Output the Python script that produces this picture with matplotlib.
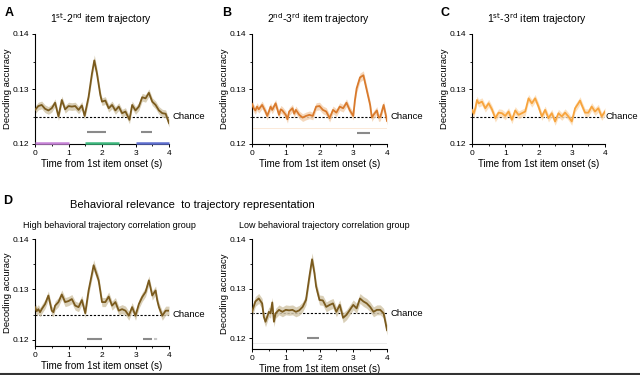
import matplotlib
matplotlib.use("Agg")
import matplotlib.pyplot as plt
from matplotlib.lines import Line2D
import numpy as np

plt.rcParams['font.family'] = ['Liberation Sans', 'DejaVu Sans']

# ---------------- data ----------------
tA = [0.0, 0.1, 0.2, 0.3, 0.4, 0.5, 0.6, 0.7, 0.8, 0.9, 1.0, 1.1, 1.2, 1.3, 1.4, 1.48, 1.6, 1.7, 1.77, 1.85,
      1.95, 2.0, 2.1, 2.2, 2.3, 2.4, 2.5, 2.6, 2.7, 2.82, 2.9, 3.0, 3.1, 3.2, 3.3, 3.4, 3.5, 3.6, 3.7, 3.8, 3.9, 4.0]
vA = [0.1262, 0.1269, 0.1271, 0.1264, 0.1261, 0.1265, 0.1275, 0.1250, 0.1280, 0.1263, 0.1269, 0.1268, 0.1269,
      0.1262, 0.1270, 0.1251, 0.1286, 0.1328, 0.1352, 0.1328, 0.1289, 0.1277, 0.1279, 0.1265, 0.1271, 0.1261,
      0.1268, 0.1256, 0.1259, 0.1244, 0.1271, 0.1261, 0.1268, 0.1285, 0.1283, 0.1293, 0.1277, 0.1271, 0.1261,
      0.1256, 0.1255, 0.1238]
eA = [0.0007] * 15 + [0.0007, 0.0008, 0.0009, 0.0010, 0.0009, 0.0008] + [0.0007] * 21

tB = [0.0, 0.05, 0.1, 0.15, 0.2, 0.3, 0.4, 0.45, 0.5, 0.55, 0.6, 0.7, 0.8, 0.85, 0.9, 1.0, 1.05, 1.1, 1.2, 1.25,
      1.3, 1.4, 1.5, 1.6, 1.7, 1.8, 1.9, 2.0, 2.1, 2.2, 2.3, 2.4, 2.5, 2.6, 2.7, 2.8, 2.9, 3.0, 3.05, 3.1, 3.2,
      3.3, 3.4, 3.5, 3.55, 3.6, 3.7, 3.75, 3.8, 3.9, 4.0]
vB = [0.1273, 0.1265, 0.1261, 0.1268, 0.1263, 0.1271, 0.1259, 0.1251, 0.1259, 0.1268, 0.1262, 0.1274, 0.1253,
      0.1263, 0.1261, 0.1253, 0.1245, 0.1259, 0.1265, 0.1255, 0.1262, 0.1253, 0.1248, 0.1251, 0.1253, 0.1251,
      0.1268, 0.1269, 0.1262, 0.1259, 0.1247, 0.1262, 0.1257, 0.1268, 0.1265, 0.1275, 0.1261, 0.1251, 0.1280,
      0.1301, 0.1321, 0.1325, 0.1298, 0.1271, 0.1248, 0.1253, 0.1261, 0.1248, 0.1249, 0.1271, 0.1242]
eB = [0.0007] * 39 + [0.0008, 0.0008, 0.0008, 0.0008] + [0.0007] * 8

tC = [0.0, 0.05, 0.1, 0.15, 0.2, 0.3, 0.4, 0.5, 0.6, 0.7, 0.8, 0.9, 1.0, 1.1, 1.2, 1.3, 1.4, 1.5, 1.6, 1.7,
      1.8, 1.9, 2.0, 2.1, 2.2, 2.3, 2.4, 2.5, 2.6, 2.7, 2.8, 2.9, 3.0, 3.1, 3.2, 3.25, 3.3, 3.4, 3.5, 3.6, 3.7,
      3.8, 3.9, 4.0]
vC = [0.1262, 0.1255, 0.1265, 0.1280, 0.1274, 0.1277, 0.1265, 0.1274, 0.1263, 0.1247, 0.1257, 0.1256, 0.1251,
      0.1259, 0.1244, 0.1261, 0.1253, 0.1256, 0.1259, 0.1283, 0.1274, 0.1283, 0.1268, 0.1250, 0.1262, 0.1247,
      0.1256, 0.1241, 0.1256, 0.1250, 0.1257, 0.1250, 0.1241, 0.1265, 0.1274, 0.1279, 0.1271, 0.1257, 0.1257,
      0.1268, 0.1259, 0.1265, 0.1250, 0.1259]
eC = [0.0007] * 44

tD1 = [0.0, 0.05, 0.1, 0.15, 0.2, 0.3, 0.4, 0.5, 0.55, 0.6, 0.7, 0.8, 0.9, 1.0, 1.1, 1.2, 1.3, 1.4, 1.5, 1.6,
       1.7, 1.75, 1.8, 1.9, 2.0, 2.1, 2.2, 2.3, 2.4, 2.5, 2.6, 2.7, 2.8, 2.9, 3.0, 3.1, 3.2, 3.3, 3.4, 3.5,
       3.6, 3.65, 3.7, 3.8, 3.9, 4.0]
vD1 = [0.1265, 0.1257, 0.1261, 0.1255, 0.1261, 0.1271, 0.1288, 0.1258, 0.1255, 0.1268, 0.1275, 0.1290, 0.1275,
       0.1277, 0.1281, 0.1268, 0.1265, 0.1279, 0.1253, 0.1298, 0.1331, 0.1348, 0.1338, 0.1318, 0.1275, 0.1275,
       0.1286, 0.1268, 0.1275, 0.1258, 0.1261, 0.1258, 0.1248, 0.1265, 0.1248, 0.1271, 0.1285, 0.1295, 0.1318,
       0.1288, 0.1298, 0.1278, 0.1265, 0.1248, 0.1258, 0.1258]
eD1 = [0.0009] * 20 + [0.0010, 0.0011, 0.0010, 0.0010] + [0.0009] * 22

tD2 = [0.0, 0.1, 0.2, 0.3, 0.35, 0.4, 0.5, 0.55, 0.6, 0.65, 0.7, 0.8, 0.9, 1.0, 1.1, 1.2, 1.3, 1.4, 1.5, 1.6,
       1.7, 1.78, 1.85, 1.9, 2.0, 2.1, 2.2, 2.3, 2.4, 2.5, 2.6, 2.7, 2.8, 2.9, 3.0, 3.1, 3.2, 3.3, 3.4, 3.5,
       3.6, 3.7, 3.8, 3.9, 4.0]
vD2 = [0.1253, 0.1274, 0.1280, 0.1270, 0.1243, 0.1233, 0.1253, 0.1250, 0.1272, 0.1233, 0.1250, 0.1257, 0.1253,
       0.1257, 0.1256, 0.1257, 0.1253, 0.1256, 0.1263, 0.1277, 0.1324, 0.1359, 0.1331, 0.1304, 0.1277, 0.1276,
       0.1263, 0.1267, 0.1270, 0.1253, 0.1267, 0.1241, 0.1247, 0.1257, 0.1267, 0.1260, 0.1280, 0.1274, 0.1270,
       0.1263, 0.1253, 0.1257, 0.1257, 0.1250, 0.1216]
eD2 = [0.0010] * 20 + [0.0012, 0.0013, 0.0012, 0.0011] + [0.0010] * 21

# significance bars (start, end) in s
sigA = [(1.54, 2.12), (3.16, 3.50)]
sigB = [(3.10, 3.50)]
sigD1 = [(1.54, 2.00), (3.23, 3.48)]
sigD1_dash = [(3.55, 3.71)]
sigD2 = [(1.64, 1.99)]

# epoch color bars under panel A
epochs = [(0.0, 1.0), (1.5, 2.5), (3.0, 4.0)]
epoch_colors = ['#c683d6', '#3db77d', '#5f6fce']

chance = 0.125
yticks = [0.12, 0.13, 0.14]
xticks = [0, 1, 2, 3, 4]

BROWN = '#7a5a1d'
BROWN_BAND = '#d3c7ab'

W, H = 640, 375
fig = plt.figure(figsize=(6.4, 3.75), dpi=100)


def px_ax(x0, x1, ytop, ybot):
    return fig.add_axes([x0 / W, 1 - ybot / H, (x1 - x0) / W, (ybot - ytop) / H])


def style(ax, ybottom, chance_x=4.1):
    ax.set_xlim(0, 4)
    ax.set_ylim(ybottom, 0.14)
    for s in ['top', 'right']:
        ax.spines[s].set_visible(False)
    for s in ['left', 'bottom']:
        ax.spines[s].set_linewidth(0.8)
    ax.set_xticks(xticks)
    ax.set_xticks([0.5, 1.5, 2.5, 3.5], minor=True)
    ax.set_yticks(yticks)
    ax.set_yticks([0.125, 0.135], minor=True)
    ax.set_yticklabels(['0.12', '0.13', '0.14'])
    ax.tick_params(axis='both', which='major', labelsize=6, length=2.5, width=0.7, pad=1.5)
    ax.tick_params(axis='both', which='minor', length=1.5, width=0.6)
    ax.set_ylabel('Decoding accuracy', fontsize=6.8, labelpad=1)
    ax.set_xlabel('Time from 1st item onset (s)', fontsize=7, labelpad=2)
    ax.axhline(chance, color='black', lw=0.8, ls=(0, (2, 1.5)), zorder=1)
    ax.text(chance_x, chance, 'Chance', fontsize=6.8, va='center', ha='left', clip_on=False)


def curve(ax, t, v, e, color, band):
    t = np.asarray(t); v = np.asarray(v); e = np.asarray(e)
    ax.fill_between(t, v - e, v + e, color=band, lw=0, alpha=0.85, zorder=2)
    ax.plot(t, v, color=color, lw=1.3, zorder=3)


def sig(ax, spans, y, color='#8a8a8a', ls='-'):
    for a, b in spans:
        ax.plot([a, b], [y, y], color=color, lw=1.5, ls=ls, solid_capstyle='butt', zorder=3)


# Panel A
axA = px_ax(35, 169, 34, 144)
style(axA, 0.12)
curve(axA, tA, vA, eA, BROWN, BROWN_BAND)
sig(axA, sigA, 0.1222)
for (a, b), c in zip(epochs, epoch_colors):
    axA.plot([a, b], [0.12025, 0.12025], color=c, lw=1.8, solid_capstyle='butt', clip_on=False, zorder=4)

# Panel B
axB = px_ax(252, 387, 34, 144)
style(axB, 0.12)
axB.axhline(0.1229, color='#fbe9d8', lw=0.7, zorder=1)
curve(axB, tB, vB, eB, '#d97a2c', '#f4d2b2')
sig(axB, sigB, 0.1220)

# Panel C
axC = px_ax(472, 605, 34, 144)
style(axC, 0.12, chance_x=4.02)
curve(axC, tC, vC, eC, '#f7a43d', '#fcdcb5')

# Panel D left
axD1 = px_ax(35, 169, 239, 346)
style(axD1, 0.1188)
curve(axD1, tD1, vD1, eD1, BROWN, BROWN_BAND)
sig(axD1, sigD1, 0.1201)
sig(axD1, sigD1_dash, 0.1201, color='#c8c8c8', ls=(0, (1.5, 1)))

# Panel D right
axD2 = px_ax(252, 387, 239, 349)
style(axD2, 0.1178)
axD2.axhline(0.1191, color='#ebebeb', lw=0.7, zorder=1)
curve(axD2, tD2, vD2, eD2, BROWN, BROWN_BAND)
sig(axD2, sigD2, 0.1201)


# Texts
def ftext(x, y, s, **kw):
    fig.text(x / W, 1 - y / H, s, **kw)


ftext(9, 13, 'A', fontsize=9, fontweight='bold', ha='center', va='center')
ftext(227, 13, 'B', fontsize=9, fontweight='bold', ha='center', va='center')
ftext(445, 13, 'C', fontsize=9, fontweight='bold', ha='center', va='center')
ftext(8, 201, 'D', fontsize=9, fontweight='bold', ha='center', va='center')

ftext(101, 19, r'1$^{\mathrm{st}}$-2$^{\mathrm{nd}}$ item trajectory', fontsize=7.5, ha='center', va='center')
ftext(318, 19, r'2$^{\mathrm{nd}}$-3$^{\mathrm{rd}}$ item trajectory', fontsize=7.5, ha='center', va='center')
ftext(537, 19, r'1$^{\mathrm{st}}$-3$^{\mathrm{rd}}$ item trajectory', fontsize=7.5, ha='center', va='center')

ftext(192, 205, 'Behavioral relevance  to trajectory representation', fontsize=8, ha='center', va='center')
ftext(109, 225, 'High behavioral trajectory correlation group', fontsize=6.5, ha='center', va='center')
ftext(324, 225, 'Low behavioral trajectory correlation group', fontsize=6.5, ha='center', va='center')

fig.add_artist(Line2D([0, 1], [1 - 374 / H, 1 - 374 / H], color='#333333', lw=1.5, transform=fig.transFigure))

fig.savefig('out.png', dpi=100)
